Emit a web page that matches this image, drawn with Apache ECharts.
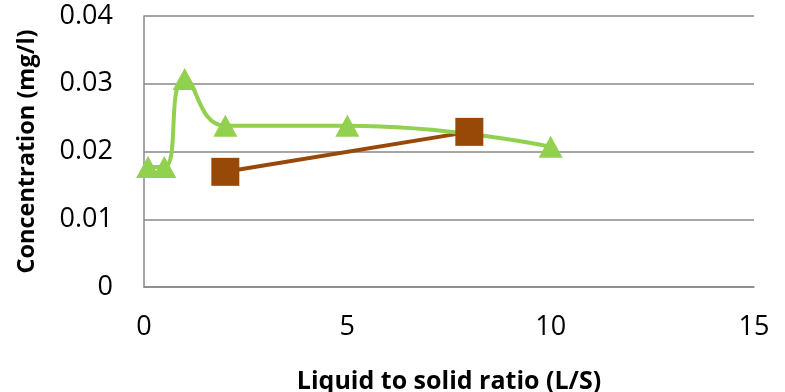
<!DOCTYPE html>
<html><head><meta charset="utf-8">
<script src="https://cdn.jsdelivr.net/npm/echarts@6/dist/echarts.min.js"></script>
<style>html,body{margin:0;padding:0;background:#fff}#c{width:785px;height:392px}</style>
</head><body><div id="c"></div>
<script>
const greenX = [0.1, 0.5, 1, 2, 5, 10];
const greenY = [0.0177, 0.0177, 0.0307, 0.0238, 0.0238, 0.0207];
const brownX = [2, 8];
const brownY = [0.0170, 0.0229];
const xTicks = [0, 5, 10, 15];
const yTicks = [0, 0.01, 0.02, 0.03, 0.04];

const font = "'Open Sans', 'Liberation Sans', sans-serif";
const chart = echarts.init(document.getElementById('c'));
chart.setOption({
  animation: false,
  grid: {left: 144, right: 31, top: 16, bottom: 105, containLabel: false, outerBoundsMode: 'none'},
  xAxis: {
    type: 'value', min: 0, max: 15, interval: 5,
    name: 'Liquid to solid ratio (L/S)', nameLocation: 'middle', nameGap: 82,
    nameTextStyle: {fontFamily: font, fontSize: 25, fontWeight: 'bold', color: '#000'},
    axisLine: {show: true, lineStyle: {color: '#888', width: 1.5}},
    axisTick: {show: false},
    splitLine: {show: false},
    axisLabel: {fontFamily: font, fontSize: 27, color: '#000', margin: 27}
  },
  yAxis: {
    type: 'value', min: 0, max: 0.04, interval: 0.01,
    name: 'Concentration (mg/l)', nameLocation: 'middle', nameGap: 105,
    nameTextStyle: {fontFamily: font, fontSize: 23.5, fontWeight: 'bold', color: '#000'},
    axisLine: {show: true, lineStyle: {color: '#888', width: 1.5}},
    axisTick: {show: false},
    splitLine: {show: true, lineStyle: {color: '#888', width: 1.5}},
    axisLabel: {fontFamily: font, fontSize: 27, color: '#000', margin: 31,
      formatter: v => { const t = yTicks.find(x => Math.abs(x - v) < 1e-9); return t === 0 ? '0' : String(+(t ?? v).toFixed(2)); }}
  },
  series: [
    {
      type: 'line', data: brownX.map((x, i) => [x, brownY[i]]),
      symbol: 'rect', symbolSize: 28,
      lineStyle: {color: '#984807', width: 4},
      itemStyle: {color: '#984807'}
    },
    {
      type: 'line', smooth: 0.5, data: greenX.map((x, i) => [x, greenY[i]]),
      symbol: 'triangle', symbolSize: [24, 22],
      lineStyle: {color: '#92D050', width: 4},
      itemStyle: {color: '#92D050'}
    }
  ]
});
</script></body></html>
